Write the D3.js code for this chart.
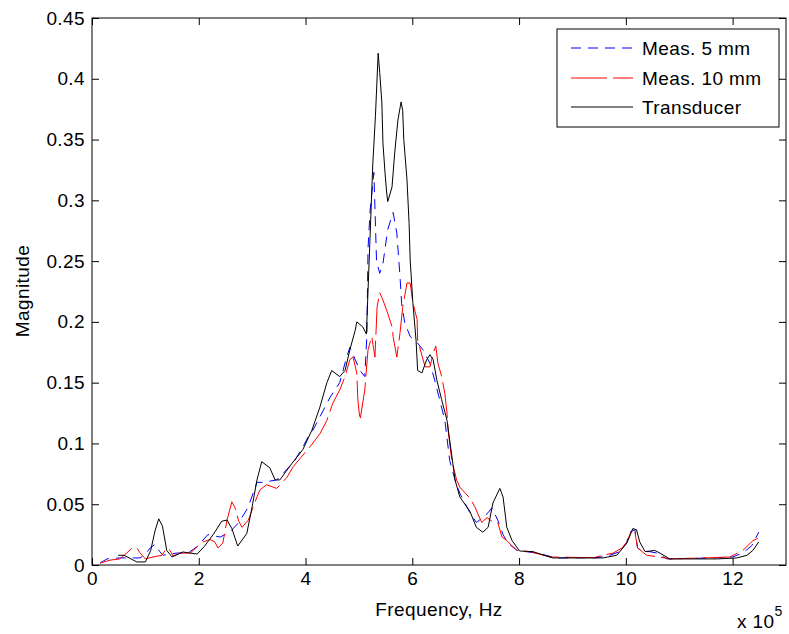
<!DOCTYPE html>
<html>
<head>
<meta charset="utf-8">
<script src="https://cdn.jsdelivr.net/npm/d3@7"></script>
<style>
  html, body { margin: 0; padding: 0; background: #fff; }
  svg { display: block; font-family: Arial, "Liberation Sans", sans-serif; }
  text { letter-spacing: 0.4px; }
</style>
</head>
<body>
<svg id="chart" width="789" height="634"></svg>
<script>
// Frequency in units of 10^5 Hz, magnitude unitless
const freqTransducer = [0.49,0.6,0.84,1.0,1.1,1.18,1.25,1.32,1.4,1.5,1.7,1.97,2.1,2.27,2.43,2.53,2.62,2.73,2.9,3.0,3.09,3.18,3.33,3.43,3.52,3.7,3.95,4.12,4.27,4.4,4.49,4.64,4.74,4.83,4.93,4.96,5.07,5.14,5.2,5.26,5.31,5.36,5.39,5.43,5.45,5.49,5.52,5.54,5.62,5.67,5.73,5.79,5.82,5.84,5.9,5.94,5.96,6.01,6.07,6.1,6.18,6.27,6.33,6.39,6.46,6.55,6.65,6.74,6.8,6.89,7.08,7.2,7.32,7.42,7.51,7.64,7.7,7.77,7.87,8.01,8.26,8.63,9.57,9.83,10.02,10.13,10.2,10.26,10.36,10.54,10.64,10.82,11.7,12.08,12.27,12.38,12.49];
const magTransducer  = [0.008,0.008,0.0025,0.0025,0.012,0.028,0.038,0.032,0.012,0.0066,0.0107,0.009,0.015,0.025,0.036,0.037,0.03,0.0156,0.026,0.048,0.07,0.085,0.08,0.07,0.07,0.081,0.095,0.111,0.13,0.15,0.16,0.155,0.16,0.177,0.193,0.2,0.196,0.19,0.26,0.33,0.37,0.421,0.405,0.38,0.347,0.322,0.306,0.299,0.311,0.339,0.366,0.381,0.374,0.35,0.317,0.281,0.251,0.216,0.185,0.16,0.158,0.169,0.173,0.169,0.152,0.136,0.119,0.09,0.07,0.056,0.044,0.031,0.027,0.031,0.051,0.063,0.056,0.031,0.02,0.0115,0.011,0.0058,0.0058,0.008,0.018,0.03,0.029,0.019,0.011,0.012,0.0098,0.005,0.005,0.0058,0.008,0.012,0.019];

const freqMeas5 = [0.15,0.28,0.52,0.9,1.0,1.09,1.18,1.27,1.33,1.45,1.59,1.8,1.97,2.17,2.4,2.58,2.75,2.92,3.09,3.2,3.46,3.77,3.95,4.08,4.14,4.46,4.64,4.77,4.83,5.02,5.11,5.15,5.17,5.21,5.28,5.33,5.39,5.45,5.54,5.64,5.71,5.77,5.8,5.86,5.96,6.09,6.2,6.33,6.42,6.61,6.7,6.8,6.89,7.08,7.2,7.32,7.42,7.49,7.6,7.7,7.79,7.96,8.33,8.71,9.46,9.7,9.89,10.02,10.07,10.17,10.22,10.32,10.45,10.58,10.77,11.76,12.0,12.19,12.36,12.49];
const magMeas5  = [0.0016,0.005,0.0058,0.0058,0.009,0.014,0.017,0.011,0.008,0.009,0.0098,0.01,0.015,0.025,0.023,0.027,0.035,0.047,0.068,0.068,0.07,0.084,0.097,0.108,0.111,0.138,0.15,0.171,0.179,0.16,0.155,0.19,0.26,0.292,0.323,0.25,0.24,0.248,0.276,0.29,0.273,0.237,0.215,0.199,0.188,0.183,0.177,0.166,0.152,0.119,0.086,0.07,0.059,0.043,0.035,0.039,0.043,0.047,0.037,0.025,0.018,0.012,0.0098,0.0058,0.006,0.008,0.011,0.019,0.027,0.029,0.014,0.011,0.011,0.0098,0.005,0.006,0.0066,0.0098,0.016,0.027];

const freqMeas10 = [0.15,0.34,0.52,0.65,0.75,0.84,0.9,1.0,1.14,1.31,1.4,1.46,1.52,1.65,1.84,1.97,2.08,2.21,2.3,2.36,2.45,2.53,2.62,2.68,2.75,2.81,2.93,3.02,3.09,3.15,3.27,3.46,3.65,3.77,4.08,4.27,4.4,4.51,4.64,4.74,4.83,4.89,4.96,4.98,5.02,5.11,5.17,5.24,5.3,5.34,5.39,5.45,5.54,5.62,5.64,5.71,5.77,5.82,5.9,5.96,6.01,6.09,6.1,6.24,6.33,6.39,6.44,6.48,6.55,6.61,6.65,6.67,6.74,6.83,6.89,7.08,7.17,7.3,7.4,7.49,7.6,7.68,7.77,7.96,8.2,8.58,9.4,9.57,9.76,9.93,10.02,10.11,10.17,10.22,10.39,10.64,10.82,11.57,11.95,12.19,12.38,12.47];
const magMeas10  = [0.0016,0.004,0.005,0.0098,0.014,0.014,0.01,0.005,0.0066,0.008,0.014,0.012,0.0074,0.0098,0.0098,0.015,0.019,0.021,0.019,0.014,0.018,0.037,0.052,0.047,0.036,0.031,0.037,0.048,0.056,0.062,0.066,0.063,0.072,0.081,0.097,0.108,0.119,0.133,0.144,0.155,0.169,0.171,0.158,0.136,0.119,0.144,0.177,0.188,0.171,0.212,0.224,0.218,0.207,0.196,0.188,0.171,0.191,0.212,0.232,0.232,0.216,0.202,0.185,0.163,0.163,0.174,0.18,0.166,0.155,0.141,0.125,0.111,0.086,0.07,0.064,0.055,0.048,0.035,0.039,0.036,0.035,0.023,0.02,0.012,0.011,0.0066,0.006,0.008,0.0098,0.014,0.019,0.029,0.027,0.014,0.008,0.0066,0.005,0.006,0.0066,0.012,0.02,0.022];

const xTicks = [0,2,4,6,8,10,12];
const yTicks = [0,0.05,0.1,0.15,0.2,0.25,0.3,0.35,0.4,0.45];
const yTickLabels = ["0","0.05","0.1","0.15","0.2","0.25","0.3","0.35","0.4","0.45"];
const legendLabels = ["Meas. 5 mm","Meas. 10 mm","Transducer"];

(function () {
const svg = d3.select("#chart");
const pl = 92, pr = 786, pt = 18, pb = 565;
const x = d3.scaleLinear().domain([0,13]).range([pl,pr]);
const y = d3.scaleLinear().domain([0,0.45]).range([pb,pt]);

const fs = "19px";

// series
const series = [
  {f: freqMeas5, m: magMeas5, color: "#0000ff", dash: "10,7"},
  {f: freqMeas10, m: magMeas10, color: "#ff0000", dash: "36,6"},
  {f: freqTransducer, m: magTransducer, color: "#000000", dash: null}
];
const line = d3.line().x(d => x(d[0])).y(d => y(d[1]));
series.forEach(s => {
  const pts = s.f.map((v,i) => [v, s.m[i]]);
  svg.append("path").attr("d", line(pts)).attr("fill","none")
    .attr("stroke", s.color).attr("stroke-width", 1)
    .attr("stroke-dasharray", s.dash);
});

// axes
const tickLen = 7;
const axB = svg.append("g").attr("transform",`translate(0,${pb})`)
  .call(d3.axisBottom(x).tickValues(xTicks).tickSizeInner(-tickLen).tickSizeOuter(0).tickPadding(11).tickFormat(d3.format("d")));
const axT = svg.append("g").attr("transform",`translate(0,${pt})`)
  .call(d3.axisTop(x).tickValues(xTicks).tickSizeInner(-tickLen).tickSizeOuter(0).tickFormat(""));
const axL = svg.append("g").attr("transform",`translate(${pl},0)`)
  .call(d3.axisLeft(y).tickValues(yTicks).tickSizeInner(-tickLen).tickSizeOuter(0).tickPadding(7).tickFormat((d,i) => yTickLabels[i]));
const axR = svg.append("g").attr("transform",`translate(${pr},0)`)
  .call(d3.axisRight(y).tickValues(yTicks).tickSizeInner(-tickLen).tickSizeOuter(0).tickFormat(""));
[axB,axT,axL,axR].forEach(g => {
  g.select(".domain").remove();
  g.selectAll("line").attr("stroke","#000");
  g.selectAll("text").attr("font-size", fs).attr("font-family","Arial, 'Liberation Sans', sans-serif").attr("fill","#000");
});
axB.selectAll("text").attr("dy","0.45em");

svg.append("rect").attr("x",pl).attr("y",pt).attr("width",pr-pl).attr("height",pb-pt)
  .attr("fill","none").attr("stroke","#000").attr("stroke-width",1);

// labels
svg.append("text").attr("x", 439).attr("y", 616).attr("text-anchor","middle")
  .attr("font-size", fs).text("Frequency, Hz");
svg.append("text").attr("transform","translate(29,291) rotate(-90)").attr("text-anchor","middle")
  .attr("font-size", fs).text("Magnitude");
const xe = svg.append("text").attr("x", 737).attr("y", 628).attr("font-size", fs);
xe.append("tspan").text("x 10");
xe.append("tspan").attr("dy", -12).attr("font-size","14px").text("5");

// legend
const lg = svg.append("g");
lg.append("rect").attr("x",557).attr("y",29).attr("width",222).attr("height",98)
  .attr("fill","#fff").attr("stroke","#000").attr("stroke-width",1);
const ly = [48,78,107];
series.forEach((s,i) => {
  lg.append("line").attr("x1",571).attr("x2",633).attr("y1",ly[i]).attr("y2",ly[i])
    .attr("stroke",s.color).attr("stroke-width",1).attr("stroke-dasharray", s.dash);
  lg.append("text").attr("x",642).attr("y",ly[i]+7).attr("font-size",fs).text(legendLabels[i]);
});
})();
</script>
</body>
</html>
